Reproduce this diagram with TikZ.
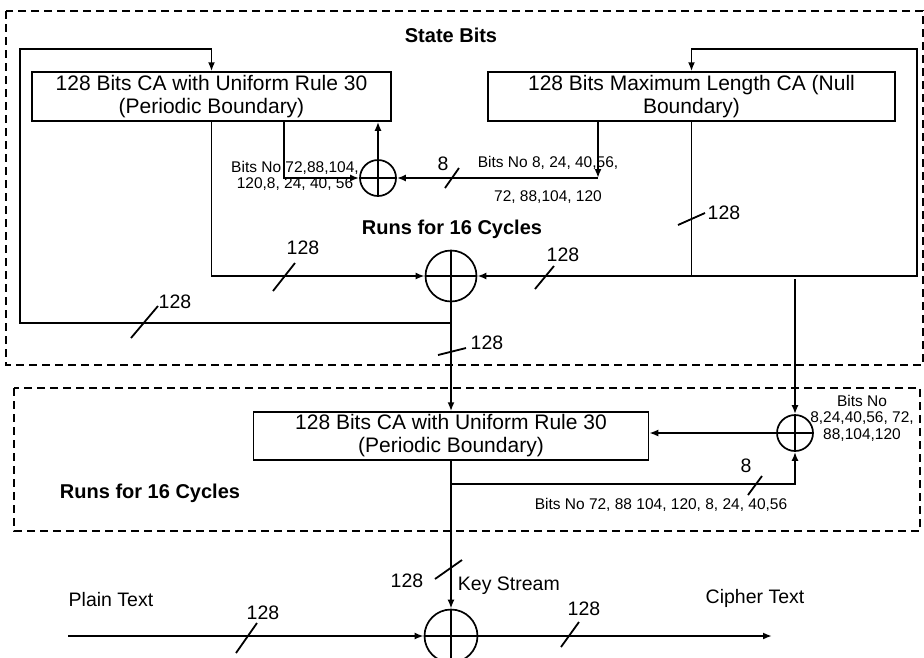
\documentclass[tikz,border=0pt]{standalone}
\usepackage{fontspec}
\setmainfont{Liberation Sans}
\usetikzlibrary{arrows.meta}

\begin{document}
\begin{tikzpicture}[
      x=1pt, y=-1pt,
      line width=1.8pt,
      inner sep=0pt,
      arr/.style={-{Latex[length=9pt,width=7pt]}},
      cabox/.style={draw, line width=1.5pt, align=center,
        font=\fontsize{21}{23}\selectfont},
      xor/.style={circle, draw, minimum size=#1, line width=1.7pt,
        path picture={\draw (path picture bounding box.north) -- (path picture bounding box.south)
          (path picture bounding box.west) -- (path picture bounding box.east);}},
      frame/.style={dashed, line width=1.3pt, dash pattern=on 8pt off 5pt},
      title/.style={font=\fontsize{20}{22}\selectfont\bfseries},
      lbl/.style={font=\fontsize{19.5}{22}\selectfont},
      bits/.style={align=center, font=\fontsize{15.5}{16.5}\selectfont}
    ]
    \useasboundingbox (0,0) rectangle (924,657);
    \draw[frame] (6,11) rectangle (923,365);
    \draw[frame] (14,388) rectangle (920,531);

    \node (boxA) [cabox, minimum width=359pt, minimum height=49pt] at (211.5,96.5)
      {128 Bits CA with Uniform Rule 30\\(Periodic Boundary)};
    \node (boxB) [cabox, minimum width=407pt, minimum height=49pt] at (691.5,96.5)
      {128 Bits Maximum Length CA (Null\\Boundary)};
    \node (boxC) [cabox, minimum width=395pt, minimum height=48pt] at (451,436)
      {128 Bits CA with Uniform Rule 30\\(Periodic Boundary)};
    \node (xorS) [xor=36pt] at (378,178) {};
    \node (xorM) [xor=51pt] at (451,276) {};
    \node (xorR) [xor=36pt] at (795,433) {};
    \node (xorK) [xor=53pt] at (451,636) {};

    \node (stbits) [title] at (451,35) {State Bits};
    \node (runsA) [title] at (452,229) {Runs for 16 Cycles};
    \node (runsC) [title] at (150,493) {Runs for 16 Cycles};

    \coordinate (aout) at (284,121);
    \coordinate (bj) at (598,178);
    \coordinate (lt) at (20,49);
    \coordinate (rt) at (917,49);
    \coordinate (j1) at (451,323);
    \coordinate (j2) at (795,279);
    \coordinate (j3) at (451,484);
    \coordinate (pin) at (68,636);
    \coordinate (pout) at (772,636);

    % upper block
    \draw[arr] (j1) -| (lt) -| (boxA.north);
    \draw[arr] (boxA.south) |- (xorM.west);
    \draw[arr] (boxB.south) |- (xorM.east);
    \draw[arr] (boxB.south |- xorM) -| (rt) -| (boxB.north);
    \draw[arr] (xorS.north) -- (xorS.north |- boxA.south);
    \draw[arr] (aout) |- (xorS.west);
    \draw[arr] (boxB.south -| bj) -- (bj);
    \draw[arr] (bj) -- (xorS.east);
    \draw[arr] (xorM.south) -- (boxC.north);
    \draw[arr] (j2) -- (xorR.north);
    % lower block
    \draw[arr] (xorR.west) -- (xorR.west -| boxC.east);
    \draw[arr] (j3) -| (xorR.south);
    \draw[arr] (boxC.south) -- (xorK.north);
    \draw[arr] (pin) -- (xorK.west);
    \draw[arr] (xorK.east) -- (pout);

    % bus width marks
    \foreach \xa/\ya/\xb/\yb in {678/225/705/213, 535/289/554/266, 273/291/295/263,
        131/338/158/306, 438/355/466/348, 445/188/459/168, 748/495/762/476,
        435/579/462/560, 236/653/257/623, 561/647/579/622}
      \draw (\xa,\ya) -- (\xb,\yb);

    \node (wB) [lbl] at (724,213) {128};
    \node (wBM) [lbl] at (563,255) {128};
    \node (wAM) [lbl] at (303,248) {128};
    \node (wL) [lbl] at (175,302) {128};
    \node (wMC) [lbl] at (487,343) {128};
    \node (wK) [lbl] at (407,581) {128};
    \node (wP) [lbl] at (263,613) {128};
    \node (wO) [lbl] at (584,609) {128};
    \node (wS) [lbl] at (443,164) {8};
    \node (wR) [lbl] at (746,466) {8};

    \node (bitsA) [bits] at (295,176) {Bits No 72,88,104,\\120,8, 24, 40, 56};
    \node (bitsB1) [bits] at (548,163) {Bits No 8, 24, 40,56,};
    \node (bitsB2) [bits] at (548,197) {72, 88,104, 120};
    \node (bitsC) [bits] at (661,505) {Bits No 72, 88 104, 120, 8, 24, 40,56};
    \node (bitsR) [bits] at (862,418) {Bits No\\8,24,40,56, 72,\\88,104,120};

    \node (keys) [lbl, anchor=west] at (457,586) {Key Stream};
    \node (plain) [lbl] at (111,600) {Plain Text};
    \node (cipher) [lbl] at (755,598) {Cipher Text};
  \end{tikzpicture}
\end{document}
